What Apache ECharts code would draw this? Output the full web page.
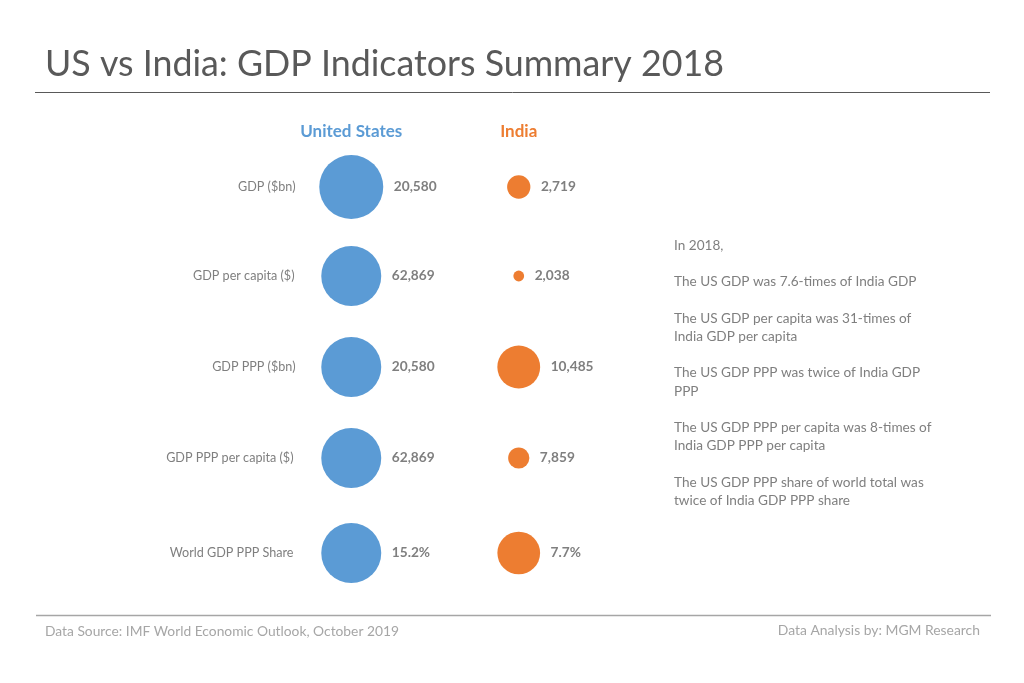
<!DOCTYPE html>
<html><head><meta charset="utf-8">
<style>html,body{margin:0;padding:0;background:#fff}#c{width:1024px;height:683px}</style>
<script src="https://cdn.jsdelivr.net/npm/echarts@6/dist/echarts.min.js"></script>
</head><body><div id="c"></div>
<script>
const indicators = ['GDP ($bn)','GDP per capita ($)','GDP PPP ($bn)','GDP PPP per capita ($)','World GDP PPP Share'];
const countries = ['United States','India'];
const usValues = [20580,62869,20580,62869,15.2];
const indiaValues = [2719,2038,10485,7859,7.7];
const units = ['','','','','%'];
const notes = ['In 2018,','',
 'The US GDP was 7.6-times of India GDP','',
 'The US GDP per capita was 31-times of','India GDP per capita','',
 'The US GDP PPP was twice of India GDP','PPP','',
 'The US GDP PPP per capita was 8-times of','India GDP PPP per capita','',
 'The US GDP PPP share of world total was','twice of India GDP PPP share'];

const FONT = 'Lato';
const COLORS = ['#5B9BD5','#ED7D31'];
const rowCenters = [187,276,367,458,553];
const rowMaxSize = [64,60,60,60,60];
const labelMargins = [-28,-27,-28,-26,-26];
const BAND = 167.5, XLEFT = 267.5;

const grid = [], xAxis = [], yAxis = [], series = [];
indicators.forEach((name,i)=>{
  grid.push({left:XLEFT, width:BAND*2, top:rowCenters[i]-44, height:88, containLabel:false});
  xAxis.push({type:'category', gridIndex:i, data:countries, position:'top',
    axisLine:{show:false}, axisTick:{show:false}, splitLine:{show:false},
    axisLabel:{show:i===0, margin:3, fontFamily:FONT, fontSize:17, fontWeight:'bold',
      color:(v,idx)=>COLORS[idx]}});
  yAxis.push({type:'category', gridIndex:i, data:[name],
    axisLine:{show:false}, axisTick:{show:false}, splitLine:{show:false},
    axisLabel:{margin:labelMargins[i], align:'right', fontFamily:FONT, fontSize:12.6, color:'#7f7f7f'}});
  [usValues,indiaValues].forEach((vals,c)=>{
    const rowMax = Math.max(usValues[i],indiaValues[i]);
    series.push({type:'scatter', xAxisIndex:i, yAxisIndex:i, clip:false,
      data:[[c,0,vals[i]]],
      symbol:'circle',
      symbolSize:d=>rowMaxSize[i]*Math.sqrt(d[2]/rowMax),
      itemStyle:{color:COLORS[c],opacity:1},
      label:{show:true, position:'right', distance:10.5, fontFamily:FONT, fontSize:13.7, fontWeight:'bold',
        color:'#7f7f7f', formatter:p=>p.value[2].toLocaleString('en-US')+units[i]},
      silent:true});
  });
});

const chart = echarts.init(document.getElementById('c'),null,{renderer:'canvas'});
chart.setOption({
  animation:false, backgroundColor:'#fff',
  title:[
    {text:'US vs India: GDP Indicators Summary 2018', left:40, top:41,
     textStyle:{fontFamily:FONT,fontSize:35.8,fontWeight:'normal',color:'#595959'}},
    {text:notes.join('\n'), left:669, top:231,
     textStyle:{fontFamily:FONT,fontSize:13.6,fontWeight:'normal',color:'#7f7f7f',lineHeight:18.25}},
    {text:'Data Source: IMF World Economic Outlook, October 2019', left:40, top:620,
     textStyle:{fontFamily:FONT,fontSize:13.8,fontWeight:'normal',color:'#a6a6a6'}},
    {text:'Data Analysis by: MGM Research', right:39, top:619,
     textStyle:{fontFamily:FONT,fontSize:13.9,fontWeight:'normal',color:'#a6a6a6'}}
  ],
  graphic:[
    {type:'line',shape:{x1:35,y1:92.5,x2:990,y2:92.5},style:{stroke:'#595959',lineWidth:1}},
    {type:'line',shape:{x1:36,y1:615.5,x2:991,y2:615.5},style:{stroke:'#a6a6a6',lineWidth:1.5}}
  ],
  tooltip:{show:false},
  grid,xAxis,yAxis,series
});
</script></body></html>
